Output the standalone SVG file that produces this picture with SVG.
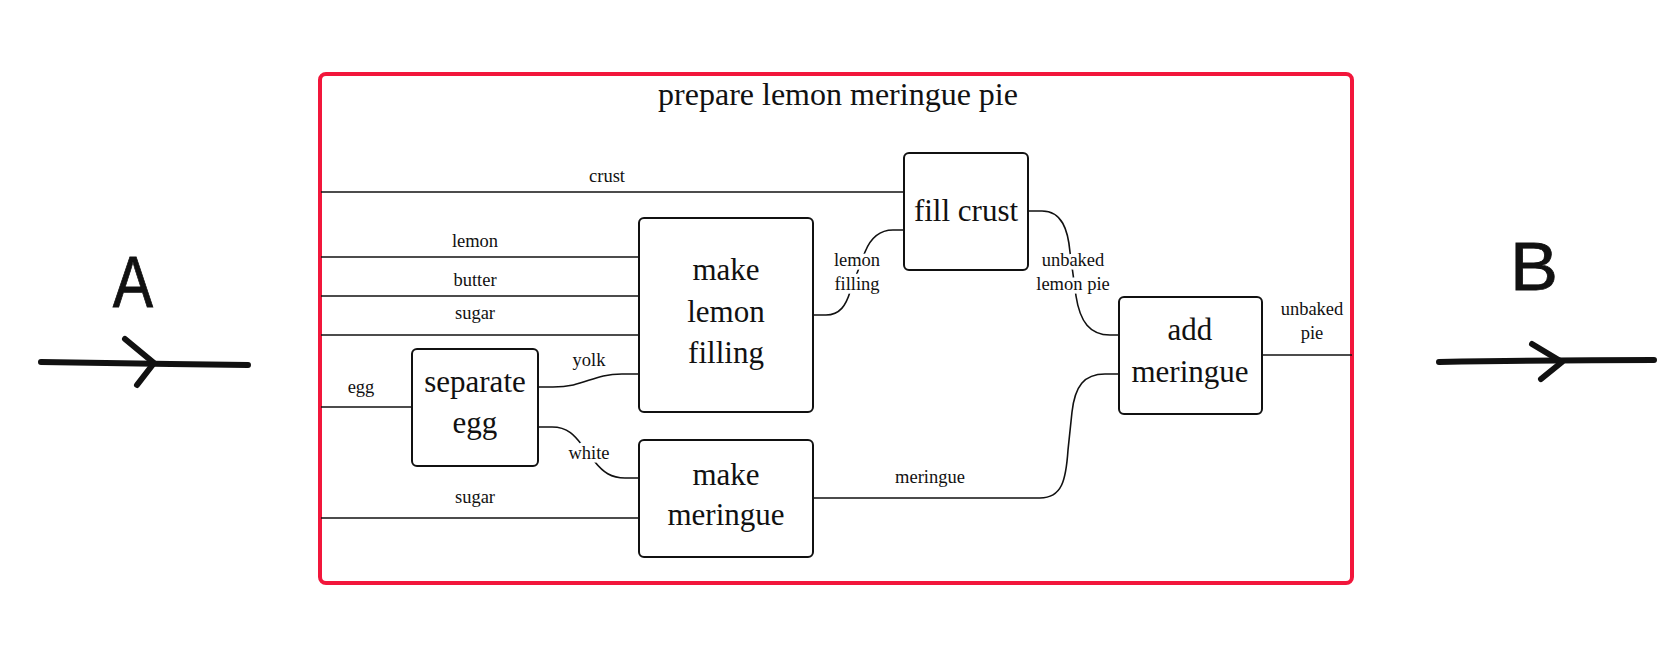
<svg xmlns="http://www.w3.org/2000/svg" width="1667" height="655" viewBox="0 0 1667 655">
<style>
.frame{fill:none;stroke:#f2163b;stroke-width:4}
.box{fill:#fff;stroke:#111;stroke-width:2}
.wire{fill:none;stroke:#111;stroke-width:1.6}
.hand{fill:none;stroke:#111;stroke-width:6;stroke-linecap:round;stroke-linejoin:round}
.bt{font-family:"Liberation Serif",serif;font-size:31px;fill:#111;text-anchor:middle}
.lb{font-family:"Liberation Serif",serif;font-size:18.5px;fill:#111;text-anchor:middle}
.halo{stroke:#fff;stroke-width:7;paint-order:stroke;stroke-linejoin:round}
.title{font-family:"Liberation Serif",serif;font-size:32px;fill:#111;text-anchor:middle}
.big{font-family:"Liberation Sans",sans-serif;font-size:72px;fill:#111;stroke:#111;stroke-width:0.8;text-anchor:middle}
</style>
<rect width="1667" height="655" fill="#fff"/>
<g id="frame">
<rect class="frame" x="320" y="74" width="1032" height="509" rx="6"/>
<text class="title" x="838" y="105">prepare lemon meringue pie</text>
</g>
<g id="input-A">
<text class="big" transform="translate(133 307) scale(0.84 1)" x="0" y="0">A</text>
<path class="hand" d="M41,362 C100,363 180,364 248,365"/>
<path class="hand" d="M125,339 L154,363 L137,385"/>
</g>
<g id="output-B">
<text class="big" transform="translate(1534 290) scale(1 0.96)" x="0" y="0">B</text>
<path class="hand" d="M1439,362 C1500,361 1580,360 1654,360"/>
<path class="hand" d="M1532,344 L1562,362 L1541,379"/>
</g>
<g id="connectors">
<path class="wire" d="M321,192 H904"/>
<path class="wire" d="M321,257 H639"/>
<path class="wire" d="M321,296 H639"/>
<path class="wire" d="M321,335 H639"/>
<path class="wire" d="M321,407 H412"/>
<path class="wire" d="M321,518 H639"/>
<path class="wire" d="M538,387 H553 C585,387 592,374 622,374 H639"/>
<path class="wire" d="M538,427 H552 C568,427 575,436 582,445 L595,462 C603,472 611,478 625,478 H639"/>
<path class="wire" d="M813,315 H826 C840,315 846,305 850,292 L865,252 C871,237 880,230 893,230 H904"/>
<path class="wire" d="M1028,211 H1042 C1062,211 1068,230 1070,252 L1076,296 C1080,322 1090,335 1110,335 H1119"/>
<path class="wire" d="M813,498 H1040 C1062,498 1066,480 1068,450 L1072,412 C1075,386 1084,374 1105,374 H1119"/>
<path class="wire" d="M1262,355 H1352"/>
<text class="lb" x="607" y="182">crust</text>
<text class="lb" x="475" y="247">lemon</text>
<text class="lb" x="475" y="286">butter</text>
<text class="lb" x="475" y="319">sugar</text>
<text class="lb" x="361" y="393">egg</text>
<text class="lb" x="475" y="503">sugar</text>
<text class="lb" x="589" y="366">yolk</text>
<text class="lb halo" x="589" y="459">white</text>
<text class="lb halo" x="857" y="266">lemon</text>
<text class="lb halo" x="857" y="290">filling</text>
<text class="lb halo" x="1073" y="266">unbaked</text>
<text class="lb halo" x="1073" y="290">lemon pie</text>
<text class="lb" x="930" y="483">meringue</text>
<text class="lb" x="1312" y="315">unbaked</text>
<text class="lb" x="1312" y="339">pie</text>
</g>
<g id="fill-crust">
<rect class="box" x="904" y="153" width="124" height="117" rx="5"/>
<text class="bt" x="966" y="221">fill crust</text>
</g>
<g id="make-lemon-filling">
<rect class="box" x="639" y="218" width="174" height="194" rx="5"/>
<text class="bt" x="726" y="280">make</text>
<text class="bt" x="726" y="322">lemon</text>
<text class="bt" x="726" y="363">filling</text>
</g>
<g id="separate-egg">
<rect class="box" x="412" y="349" width="126" height="117" rx="5"/>
<text class="bt" x="475" y="392">separate</text>
<text class="bt" x="475" y="433">egg</text>
</g>
<g id="make-meringue">
<rect class="box" x="639" y="440" width="174" height="117" rx="5"/>
<text class="bt" x="726" y="485">make</text>
<text class="bt" x="726" y="525">meringue</text>
</g>
<g id="add-meringue">
<rect class="box" x="1119" y="297" width="143" height="117" rx="5"/>
<text class="bt" x="1190" y="340">add</text>
<text class="bt" x="1190" y="382">meringue</text>
</g>
</svg>
